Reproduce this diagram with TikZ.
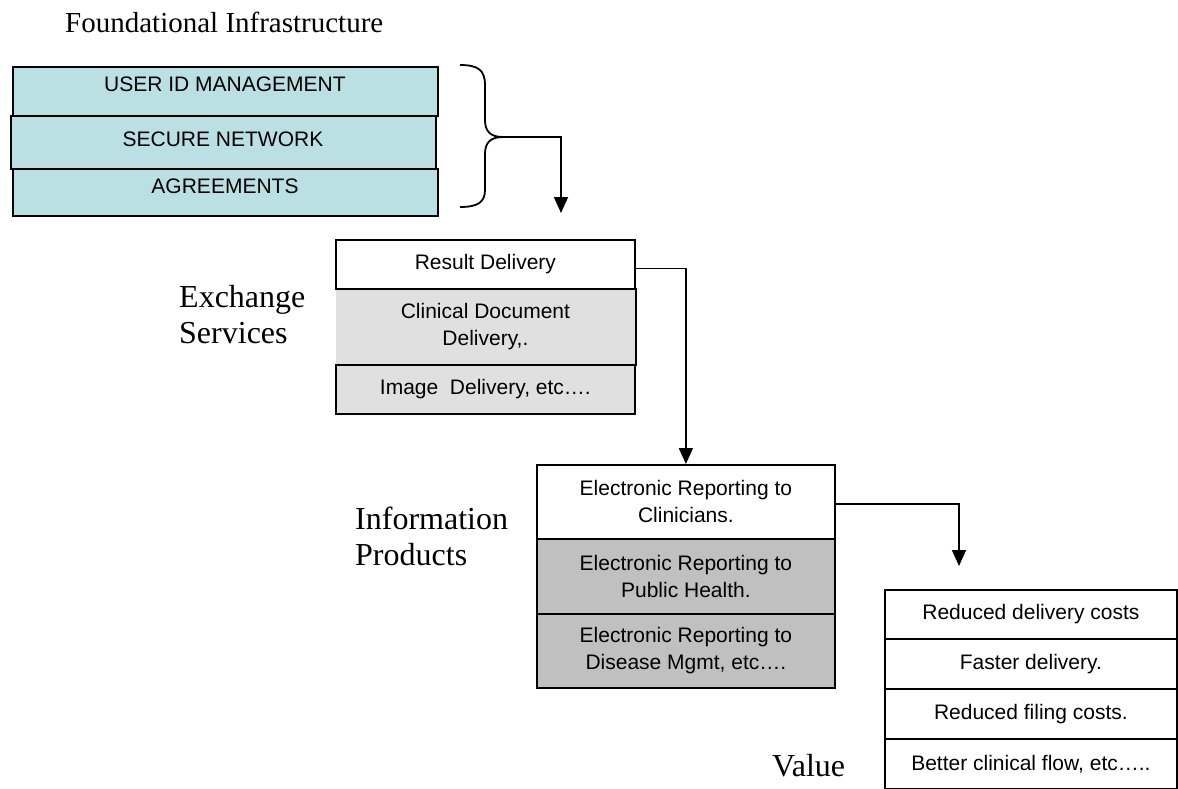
\documentclass[tikz,border=0pt]{standalone}
\usepackage{fontspec}
\setmainfont{Liberation Serif}
\setsansfont{Liberation Sans}
\usetikzlibrary{arrows.meta}
\definecolor{infra}{RGB}{186,224,227}
\definecolor{lightgrey}{RGB}{224,224,224}
\definecolor{midgrey}{RGB}{192,192,192}
\begin{document}
\begin{tikzpicture}[x=1pt,y=-1pt,
  cell/.style={draw, line width=1.8pt, anchor=north west, inner sep=0pt, align=center,
               font=\sffamily\fontsize{21}{27}\selectfont},
  boxtext/.style={font=\sffamily\fontsize{21}{27}\selectfont, inner sep=0pt},
  caption/.style={font=\fontsize{32}{36}\selectfont, anchor=west, align=left, inner sep=0pt},
  conn/.style={line width=1.7pt, -{Triangle[length=16pt,width=14pt]}},
]
\useasboundingbox (0,0) rectangle (1178,788);

% headings
\node[caption, font=\fontsize{29}{34}\selectfont] (found) at (65,22) {Foundational Infrastructure};
\node[caption] (exch) at (179,315) {Exchange\\Services};
\node[caption] (infoL) at (355,536) {Information\\Products};
\node[caption] (val) at (772,766) {Value};

% foundational infrastructure layers
\node[cell, fill=infra, minimum width=425pt, minimum height=49pt] (uid) at (12,66) {};
\node[cell, fill=infra, minimum width=425pt, minimum height=53pt] (net) at (10,115) {};
\node[cell, fill=infra, minimum width=425pt, minimum height=47pt] (agr) at (12,168) {};
\node[boxtext] (uidt) at (225,84) {USER ID MANAGEMENT};
\node[boxtext] (nett) at (223,139) {SECURE NETWORK};
\node[boxtext] (agrt) at (225,186) {AGREEMENTS};

% brace grouping the three layers
\draw[line width=1.8pt] (460,65) .. controls (478,65) and (485,70) .. (485,85) -- (485,120)
  .. controls (485,131) and (490,137) .. (503,137)
  .. controls (490,137) and (485,143) .. (485,154) -- (485,190)
  .. controls (485,202) and (478,207) .. (460,207);
\coordinate (bmid) at (503,137);
\coordinate (drop1) at (561,213);
\draw[conn] (bmid) -| (drop1);

% exchange services
\node[cell, fill=lightgrey, draw=none, minimum width=299pt, minimum height=76pt] (cdd) at (335,288) {Clinical Document\\Delivery,.};
\node[cell, fill=white, minimum width=299pt, minimum height=49pt] (res) at (335,239) {Result Delivery};
\node[cell, fill=lightgrey, minimum width=299pt, minimum height=49pt] (img) at (335,364) {Image\ \ Delivery, etc….};
\draw[line width=1.8pt] (cdd.north east) -- (cdd.south east);

% information products
\node[cell, fill=white, minimum width=298pt, minimum height=74pt] (clin) at (536,464) {Electronic Reporting to\\Clinicians.};
\node[cell, fill=midgrey, minimum width=298pt, minimum height=75pt] (pub) at (536,538) {Electronic Reporting to\\Public Health.};
\node[cell, fill=midgrey, minimum width=298pt, minimum height=74pt] (dis) at (536,613) {Electronic Reporting to\\Disease Mgmt, etc….};

% value
\node[cell, minimum width=292pt, minimum height=49pt] (v1) at (884,589) {Reduced delivery costs};
\node[cell, minimum width=292pt, minimum height=50pt] (v2) at (884,638) {Faster delivery.};
\node[cell, minimum width=292pt, minimum height=50pt] (v3) at (884,688) {Reduced filing costs.};
\node[cell, minimum width=292pt, minimum height=50pt] (v4) at (884,738) {Better clinical flow, etc…..};

% connectors
\draw[conn] ([yshift=-4pt]res.east) -| (clin.north);
\coordinate (drop3) at (959,566);
\draw[conn] ([yshift=-2pt]clin.east) -| (drop3);
\end{tikzpicture}
\end{document}
